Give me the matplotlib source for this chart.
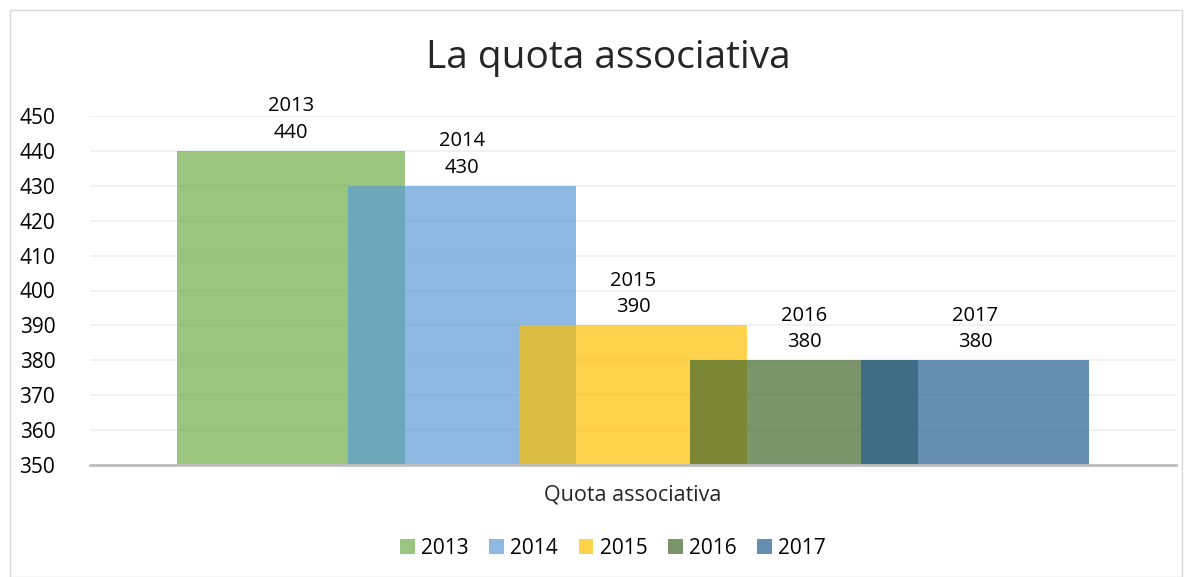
import matplotlib
matplotlib.use("Agg")
import matplotlib.pyplot as plt
from matplotlib.patches import Rectangle, Patch

plt.rcParams['font.family'] = ['Open Sans', 'DejaVu Sans']

years = ['2013', '2014', '2015', '2016', '2017']
quota = [440, 430, 390, 380, 380]
colors = ['#70AD47', '#5B9BD5', '#FFC000', '#43682B', '#255E91']
y_ticks = [350, 360, 370, 380, 390, 400, 410, 420, 430, 440, 450]

fig = plt.figure(figsize=(11.92, 5.77), dpi=100)
ax = fig.add_axes([90 / 1192, (577 - 465) / 577, 1086 / 1192, 349 / 577])

step = 0.75
width = 1.0
for i, (yr, val, col) in enumerate(zip(years, quota, colors)):
    x = i * step
    ax.bar(x, val - 350, bottom=350, width=width, color=col, alpha=0.7, zorder=2)
    ax.text(x, val + 2.3, yr + '\n' + str(val), ha='center', va='bottom',
            fontsize=14.5, linespacing=1.45, color='#000000')

half = 1086 / 228 / 2
ax.set_xlim(1.5 - half, 1.5 + half)
ax.set_ylim(350, 450)
ax.set_yticks(y_ticks)
ax.set_yticklabels([str(v) for v in y_ticks], fontsize=15)
ax.tick_params(axis='y', length=0, pad=25)
ax.set_xticks([])
ax.grid(axis='y', color='#EFEFEF', linewidth=1.2, zorder=0)
for s in ['top', 'right', 'left']:
    ax.spines[s].set_visible(False)
ax.spines['bottom'].set_color('#BFBFBF')
ax.spines['bottom'].set_linewidth(2)
ax.spines['bottom'].set_zorder(3)

fig.text(608 / 1192, 1 - 58 / 577, 'La quota associativa', ha='center', va='center',
         fontsize=28, color='#262626')
fig.text(633 / 1192, 1 - 495 / 577, 'Quota associativa', ha='center', va='center',
         fontsize=15.5, color='#262626')

handles = [Patch(facecolor=c, alpha=0.7) for c in colors]
fig.legend(handles, years, loc='center', bbox_to_anchor=(613 / 1192, 1 - 548 / 577),
           ncol=5, frameon=False, fontsize=15, handlelength=0.7, handleheight=0.7,
           handletextpad=0.3, columnspacing=1.0)

fig.patches.append(Rectangle((10 / 1192, 0), 1172 / 1192, 1 - 10 / 577,
                             transform=fig.transFigure, fill=False,
                             edgecolor='#D9D9D9', linewidth=1))

fig.savefig('out.png', dpi=100)
